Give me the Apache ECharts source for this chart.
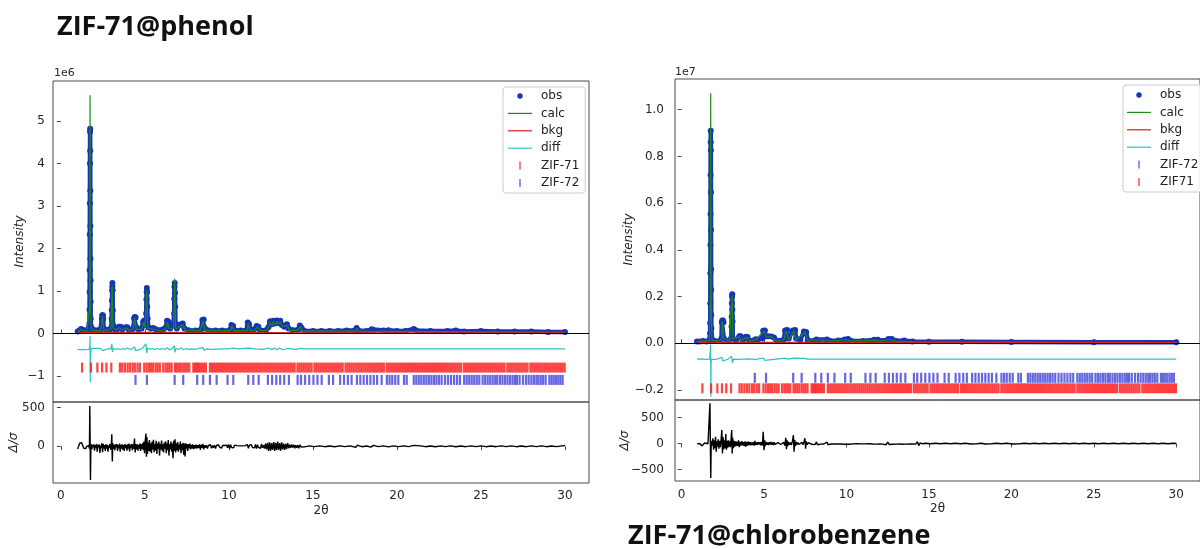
<!DOCTYPE html>
<html>
<head>
<meta charset="utf-8">
<title>ZIF-71 Rietveld refinements</title>
<script src="https://cdn.jsdelivr.net/npm/echarts@6/dist/echarts.min.js"></script>
<style>
  html, body { margin: 0; padding: 0; background: #ffffff; }
  #chart { width: 1200px; height: 549px; }
</style>
</head>
<body>
<div id="chart"></div>
<script>
// ---------------------------------------------------------------------------
// Data: 2θ in degrees. Intensities of the phenol pattern in units of 1e6 counts,
// of the chlorobenzene pattern in units of 1e7 counts (axis offset labels).
// ---------------------------------------------------------------------------

// Axis tick values
const twoThetaTicks = [0, 5, 10, 15, 20, 25, 30];
const phenolIntensityTicks = [-1, 0, 1, 2, 3, 4, 5];
const phenolResidTicks = [0, 500];
const chloroIntensityTicks = [-0.2, 0, 0.2, 0.4, 0.6, 0.8, 1.0];
const chloroResidTicks = [-500, 0, 500];

// ZIF-71@phenol: observed profile (1e6 counts)
const phenolObs = [
  [1.00,0.05],[1.10,0.07],[1.20,0.11],[1.28,0.09],[1.40,0.07],[1.55,0.07],[1.65,0.09],
  [1.700,0.24],[1.705,0.56],[1.710,0.98],[1.715,1.49],[1.720,2.33],[1.725,3.07],[1.730,4.00],[1.735,4.75],
  [1.740,4.82],[1.745,4.30],[1.750,3.36],[1.755,2.53],[1.760,1.76],[1.765,1.25],[1.770,0.75],[1.775,0.35],
  [1.80,0.15],[1.88,0.10],[2.00,0.08],[2.20,0.08],[2.35,0.09],
  [2.42,0.12],[2.44,0.35],[2.46,0.43],[2.50,0.43],[2.52,0.35],[2.54,0.12],
  [2.70,0.09],[2.90,0.09],[3.00,0.15],
  [3.020,0.35],[3.030,0.55],[3.040,0.78],[3.050,1.02],[3.060,1.11],[3.065,1.19],[3.080,1.02],[3.090,0.55],[3.10,0.20],
  [3.20,0.10],[3.35,0.10],[3.45,0.16],[3.55,0.16],[3.65,0.10],[3.85,0.15],[3.95,0.15],[4.05,0.09],[4.25,0.10],
  [4.33,0.15],[4.36,0.36],[4.40,0.39],[4.45,0.38],[4.48,0.15],
  [4.60,0.10],[4.80,0.12],[4.90,0.28],[4.95,0.30],[5.00,0.20],
  [5.060,0.27],[5.075,0.47],[5.090,0.80],[5.105,0.98],[5.115,1.07],[5.125,0.98],[5.140,0.63],[5.160,0.35],[5.20,0.15],
  [5.35,0.12],[5.50,0.13],[5.65,0.10],[5.90,0.08],[6.10,0.10],[6.25,0.15],[6.32,0.30],[6.40,0.28],[6.50,0.12],
  [6.700,0.24],[6.740,0.47],[6.750,0.82],[6.760,1.10],[6.775,1.19],[6.790,0.96],[6.800,0.63],[6.820,0.24],
  [6.90,0.12],[7.05,0.20],[7.15,0.22],[7.25,0.24],[7.35,0.12],[7.60,0.08],[8.00,0.07],[8.35,0.10],
  [8.42,0.32],[8.50,0.33],[8.58,0.12],[8.80,0.07],[9.20,0.07],[9.60,0.07],[10.05,0.08],[10.15,0.20],
  [10.25,0.18],[10.35,0.08],[10.70,0.07],[11.05,0.08],[11.12,0.26],[11.20,0.22],[11.30,0.08],[11.50,0.10],
  [11.65,0.18],[11.75,0.16],[11.85,0.08],[12.20,0.08],[12.35,0.15],[12.45,0.29],[12.55,0.22],[12.65,0.30],
  [12.75,0.24],[12.85,0.31],[12.95,0.25],[13.05,0.30],[13.15,0.20],[13.30,0.16],[13.45,0.22],[13.55,0.12],
  [13.80,0.08],[14.15,0.10],[14.22,0.19],[14.32,0.14],[14.50,0.06],[15.00,0.06],[15.50,0.06],[16.00,0.06],
  [16.50,0.06],[17.00,0.07],[17.50,0.08],[17.60,0.13],[17.70,0.07],[18.20,0.06],[18.50,0.10],[18.60,0.07],
  [19.20,0.07],[19.50,0.08],[20.00,0.06],[20.50,0.06],[21.00,0.11],[21.15,0.07],[22.00,0.06],[23.00,0.06],
  [23.50,0.07],[24.00,0.05],[25.00,0.06],[26.00,0.05],[27.00,0.05],[28.00,0.05],[29.00,0.04],[30.00,0.04]
];

// ZIF-71@phenol: calculated profile (1e6 counts)
const phenolCalc = [
  [1.00,0.04],[1.10,0.06],[1.20,0.10],[1.28,0.08],[1.40,0.06],[1.55,0.06],[1.66,0.08],[1.71,0.60],
  [1.735,5.61],[1.76,0.60],[1.80,0.10],[1.95,0.07],[2.20,0.07],[2.38,0.08],[2.44,0.30],[2.47,0.41],
  [2.50,0.30],[2.56,0.08],[2.80,0.08],[2.98,0.12],[3.05,1.14],[3.10,0.14],[3.30,0.09],[3.47,0.14],
  [3.60,0.09],[3.90,0.13],[4.05,0.08],[4.30,0.09],[4.38,0.36],[4.44,0.35],[4.50,0.10],[4.80,0.10],
  [4.92,0.26],[5.00,0.14],[5.115,1.02],[5.17,0.12],[5.40,0.11],[5.60,0.09],[6.00,0.07],[6.25,0.12],
  [6.34,0.27],[6.45,0.11],[6.70,0.12],[6.775,1.29],[6.83,0.10],[7.10,0.18],[7.25,0.21],[7.40,0.08],
  [8.30,0.07],[8.46,0.30],[8.58,0.07],[10.10,0.07],[10.18,0.18],[10.30,0.07],[11.08,0.07],[11.15,0.24],
  [11.25,0.07],[11.55,0.08],[11.70,0.16],[11.85,0.07],[12.30,0.08],[12.45,0.27],[12.55,0.18],[12.65,0.28],
  [12.75,0.20],[12.85,0.28],[12.95,0.22],[13.05,0.28],[13.18,0.16],[13.45,0.20],[13.60,0.08],[14.10,0.07],
  [14.22,0.17],[14.35,0.06],[17.55,0.06],[17.60,0.12],[17.70,0.06],[30.00,0.03]
];

// ZIF-71@phenol: background (1e6 counts)
const phenolBkg = [[1.00,0.03],[5.00,0.03],[10.00,0.025],[20.00,0.02],[30.00,0.02]];

// ZIF-71@phenol: difference curve, drawn offset below zero (1e6 counts)
const phenolDiff = [
  [1.00,-0.37],[1.08,-0.35],[1.15,-0.38],[1.22,-0.34],[1.30,-0.37],[1.40,-0.36],[1.50,-0.38],[1.60,-0.35],
  [1.68,-0.37],[1.72,-0.30],[1.735,-0.06],[1.75,-1.14],[1.765,-0.52],[1.79,-0.36],[1.85,-0.38],[1.95,-0.35],
  [2.05,-0.37],[2.15,-0.35],[2.25,-0.38],[2.35,-0.35],[2.45,-0.31],[2.50,-0.40],[2.58,-0.36],[2.70,-0.37],
  [2.85,-0.35],[2.97,-0.37],[3.03,-0.24],[3.07,-0.43],[3.12,-0.35],[3.25,-0.37],[3.40,-0.35],[3.52,-0.38],
  [3.65,-0.35],[3.80,-0.37],[3.95,-0.34],[4.10,-0.37],[4.25,-0.36],[4.38,-0.31],[4.44,-0.40],[4.55,-0.36],
  [4.70,-0.37],[4.85,-0.35],[4.95,-0.38],[5.06,-0.24],[5.11,-0.46],[5.16,-0.34],[5.30,-0.37],[5.45,-0.35],
  [5.60,-0.37],[5.75,-0.35],[5.90,-0.37],[6.05,-0.35],[6.20,-0.37],[6.33,-0.33],[6.45,-0.38],[6.60,-0.36],
  [6.74,-0.29],[6.79,-0.44],[6.85,-0.35],[7.00,-0.37],[7.15,-0.34],[7.30,-0.38],[7.45,-0.35],[7.60,-0.37],
  [7.80,-0.36],[8.00,-0.37],[8.20,-0.35],[8.45,-0.33],[8.52,-0.39],[8.70,-0.36],[9.00,-0.37],[9.50,-0.36],
  [10.00,-0.36],[10.20,-0.34],[10.30,-0.38],[10.60,-0.36],[11.10,-0.34],[11.20,-0.38],[11.60,-0.36],
  [12.00,-0.37],[12.40,-0.34],[12.55,-0.38],[12.70,-0.34],[12.85,-0.38],[13.00,-0.34],[13.20,-0.38],
  [13.50,-0.35],[14.00,-0.37],[14.25,-0.35],[14.50,-0.36],[30.00,-0.36]
];

// ZIF-71@phenol: normalised residual Δ/σ
const phenolResid = [
  [1.00,-35],[1.06,5],[1.12,40],[1.18,65],[1.24,45],[1.30,10],[1.36,-25],[1.42,-50],[1.48,-30],[1.54,0],
  [1.60,-15],[1.66,10],[1.70,-30],[1.72,520],[1.745,-30],[1.76,-435],[1.78,-60],[1.80,30],
  [1.84,-40],[1.88,20],[1.92,-10],[1.96,25],[2.00,-55],[2.04,15],[2.08,-20],[2.12,30],[2.16,-70],[2.20,20],
  [2.24,-15],[2.28,25],[2.32,-85],[2.36,10],[2.40,-20],[2.44,40],[2.48,-75],[2.52,30],[2.56,-25],[2.60,15],
  [2.64,-60],[2.68,25],[2.72,-30],[2.76,20],[2.80,-70],[2.84,10],[2.88,-20],[2.92,30],[2.96,-45],[3.00,20],
  [3.03,155],[3.06,-195],[3.09,40],[3.13,-30],[3.17,20],[3.21,-50],[3.25,25],[3.29,-15],[3.33,30],[3.37,-60],
  [3.41,15],[3.45,-25],[3.49,35],[3.53,-70],[3.57,20],[3.61,-30],[3.65,25],[3.69,-45],[3.73,15],[3.77,-60],
  [3.81,30],[3.85,-25],[3.89,20],[3.93,-55],[3.97,25],[4.01,-30],[4.05,35],[4.09,-65],[4.13,20],[4.17,-20],
  [4.21,30],[4.25,-50],[4.29,25],[4.33,-35],[4.38,100],[4.42,-80],[4.46,30],[4.50,-40],[4.54,25],[4.58,-55],
  [4.62,20],[4.66,-30],[4.70,35],[4.74,-60],[4.78,25],[4.82,-35],[4.86,40],[4.90,-50],[4.94,60],[4.98,-90],
  [5.02,70],[5.06,165],[5.09,-135],[5.12,120],[5.15,-100],[5.19,50],[5.23,-60],[5.27,80],[5.31,-70],[5.35,40],
  [5.39,-90],[5.43,60],[5.47,-40],[5.51,85],[5.55,-75],[5.59,30],[5.63,-55],[5.67,70],[5.71,-100],[5.75,40],
  [5.79,-30],[5.83,60],[5.87,-120],[5.91,30],[5.95,-40],[5.99,75],[6.03,-60],[6.07,25],[6.11,-80],[6.15,50],
  [6.19,-30],[6.23,65],[6.27,-90],[6.31,40],[6.35,-50],[6.39,80],[6.43,-120],[6.47,30],[6.51,-40],[6.55,60],
  [6.59,-70],[6.63,35],[6.67,-155],[6.71,70],[6.75,-60],[6.79,90],[6.83,-80],[6.87,40],[6.91,-50],[6.95,55],
  [6.99,-70],[7.03,25],[7.07,-40],[7.11,60],[7.15,-90],[7.19,30],[7.23,-50],[7.27,45],[7.31,-110],[7.35,35],
  [7.39,-130],[7.43,40],[7.47,-30],[7.51,25],[7.55,-60],[7.59,30],[7.63,-25],[7.67,35],[7.71,-40],[7.75,20],
  [7.80,-30],[7.85,25],[7.90,-35],[7.95,15],[8.00,-25],[8.05,20],[8.10,-30],[8.15,15],[8.20,-20],[8.25,25],
  [8.30,-45],[8.35,20],[8.40,-20],[8.45,30],[8.50,-40],[8.55,15],[8.60,-20],[8.66,15],[8.72,-30],[8.78,10],
  [8.84,-15],[8.90,20],[8.96,-25],[9.02,10],[9.08,-20],[9.14,15],[9.20,-30],[9.26,10],[9.32,-15],[9.38,20],
  [9.44,-10],[9.50,15],[9.56,-25],[9.62,10],[9.68,-15],[9.74,10],[9.80,-10],[9.86,15],[9.92,-20],[9.98,25],
  [10.04,-30],[10.10,20],[10.16,-15],[10.22,10],[10.28,-20],[10.34,15],[10.40,-10],[10.48,8],[10.56,-8],
  [10.64,6],[10.72,-6],[10.80,5],[10.88,-5],[10.96,8],[11.04,-10],[11.10,20],[11.16,-25],[11.22,15],
  [11.28,-10],[11.34,20],[11.40,-15],[11.46,10],[11.52,-20],[11.58,25],[11.64,-30],[11.70,20],[11.76,-15],
  [11.82,10],[11.88,-25],[11.94,30],[12.00,-20],[12.06,15],[12.12,-30],[12.18,35],[12.24,-40],[12.30,45],
  [12.36,-60],[12.42,50],[12.48,-55],[12.54,40],[12.60,-45],[12.66,55],[12.72,-60],[12.78,45],[12.84,-50],
  [12.90,60],[12.96,-45],[13.02,40],[13.08,-55],[13.14,50],[13.20,-40],[13.26,35],[13.32,-45],[13.38,30],
  [13.44,-35],[13.50,40],[13.56,-25],[13.62,20],[13.68,-20],[13.74,25],[13.80,-15],[13.86,20],[13.92,-25],
  [13.98,15],[14.04,-20],[14.10,15],[14.16,-25],[14.22,20],[14.30,-10],[14.40,10],[14.50,-8],[14.80,5],
  [15.10,-4],[15.40,6],[15.70,-5],[16.00,4],[16.30,-6],[16.60,5],[16.90,-4],[17.20,6],[17.55,-12],[17.65,15],
  [17.90,-5],[18.20,4],[18.45,-10],[18.60,12],[18.90,-4],[19.20,6],[19.50,-8],[19.80,5],[20.10,-5],[20.40,6],
  [20.70,-4],[21.00,12],[21.10,-12],[21.40,5],[21.70,-5],[22.00,4],[22.30,-6],[22.60,5],[22.90,-4],[23.20,6],
  [23.50,-6],[23.80,4],[24.10,-5],[24.40,5],[24.70,-4],[25.00,5],[25.30,-5],[25.60,4],[25.90,-5],[26.20,5],
  [26.50,-4],[26.80,6],[27.10,-5],[27.40,4],[27.70,-5],[28.00,5],[28.30,-4],[28.60,5],[28.90,-5],[29.20,4],
  [29.50,-4],[29.80,5],[30.00,10]
];

// ZIF-71@chlorobenzene: observed profile (1e7 counts)
const chloroObs = [
  [0.93,0.007],[1.10,0.008],[1.30,0.010],[1.50,0.008],[1.68,0.012],
  [1.730,0.043],[1.735,0.086],[1.740,0.171],[1.745,0.300],[1.750,0.421],[1.755,0.554],[1.760,0.721],
  [1.765,0.861],[1.770,0.910],[1.775,0.826],[1.780,0.647],[1.785,0.486],[1.790,0.317],[1.795,0.229],
  [1.800,0.121],[1.805,0.064],[1.85,0.015],[2.00,0.010],[2.30,0.010],
  [2.42,0.020],[2.44,0.090],[2.47,0.097],[2.51,0.097],[2.54,0.090],[2.56,0.020],[2.80,0.010],[3.00,0.020],
  [3.030,0.071],[3.040,0.114],[3.050,0.171],[3.060,0.200],[3.070,0.210],[3.080,0.143],[3.090,0.093],[3.11,0.020],
  [3.30,0.012],[3.50,0.030],[3.58,0.030],[3.70,0.012],[3.90,0.028],[4.00,0.027],[4.10,0.010],[4.50,0.017],
  [4.60,0.010],[4.90,0.020],[4.95,0.054],[5.05,0.055],[5.12,0.030],[5.25,0.030],[5.45,0.029],[5.60,0.025],
  [5.75,0.012],[6.20,0.015],[6.28,0.055],[6.40,0.057],[6.50,0.020],[6.75,0.055],[6.88,0.057],[6.95,0.020],
  [7.20,0.015],[7.42,0.050],[7.55,0.048],[7.65,0.013],[8.00,0.010],[8.18,0.016],[8.30,0.010],[8.82,0.016],
  [9.00,0.010],[9.50,0.012],[9.90,0.016],[10.10,0.018],[10.30,0.010],[11.00,0.010],[11.70,0.015],
  [11.90,0.015],[12.20,0.010],[12.55,0.018],[12.75,0.018],[13.00,0.010],[13.50,0.012],[14.00,0.008],
  [15.00,0.006],[17.00,0.006],[20.00,0.005],[25.00,0.004],[30.00,0.004]
];

// ZIF-71@chlorobenzene: calculated profile (1e7 counts)
const chloroCalc = [
  [0.93,0.006],[1.30,0.009],[1.68,0.011],[1.745,0.200],[1.765,1.071],[1.785,0.200],[1.84,0.012],
  [2.30,0.009],[2.43,0.020],[2.46,0.092],[2.52,0.092],[2.55,0.020],[2.90,0.010],[3.00,0.018],[3.065,0.205],
  [3.12,0.018],[3.50,0.028],[3.60,0.012],[3.95,0.026],[4.10,0.010],[4.50,0.015],[4.60,0.010],[5.00,0.052],
  [5.12,0.028],[5.45,0.027],[5.70,0.012],[6.20,0.014],[6.34,0.054],[6.50,0.015],[6.82,0.054],[6.95,0.015],
  [7.48,0.047],[7.65,0.012],[8.18,0.014],[8.30,0.010],[8.82,0.014],[9.00,0.009],[10.00,0.015],[10.30,0.009],
  [11.80,0.013],[12.00,0.009],[12.65,0.016],[13.00,0.009],[14.00,0.006],[30.00,0.003]
];

// ZIF-71@chlorobenzene: background (1e7 counts)
const chloroBkg = [[0.93,0.004],[5.00,0.004],[15.00,0.0035],[30.00,0.003]];

// ZIF-71@chlorobenzene: difference curve, drawn offset below zero (1e7 counts)
const chloroDiff = [
  [0.93,-0.068],[1.20,-0.067],[1.50,-0.069],[1.70,-0.068],[1.745,-0.062],[1.76,-0.005],[1.775,-0.229],
  [1.79,-0.080],[1.83,-0.068],[2.00,-0.070],[2.20,-0.067],[2.44,-0.060],[2.50,-0.076],[2.56,-0.068],
  [2.80,-0.069],[3.03,-0.056],[3.08,-0.084],[3.13,-0.068],[3.50,-0.069],[4.00,-0.067],[4.50,-0.069],
  [4.97,-0.063],[5.03,-0.073],[5.10,-0.068],[5.60,-0.069],[6.30,-0.064],[6.38,-0.072],[6.45,-0.068],
  [6.80,-0.064],[6.86,-0.072],[6.92,-0.068],[7.46,-0.065],[7.53,-0.071],[7.60,-0.068],[10.00,-0.068],
  [30.00,-0.068]
];

// ZIF-71@chlorobenzene: normalised residual Δ/σ
const chloroResid = [
  [0.95,0],[1.05,5],[1.15,-10],[1.22,-50],[1.30,-30],[1.40,10],[1.50,20],[1.60,-5],[1.68,-20],[1.72,770],
  [1.745,-40],[1.77,-660],[1.79,-100],[1.82,50],[1.86,-40],[1.90,100],[1.94,-120],[1.98,60],[2.02,-90],
  [2.06,130],[2.10,-160],[2.14,40],[2.18,-60],[2.22,80],[2.26,-100],[2.30,50],[2.35,-70],[2.40,90],
  [2.44,256],[2.48,-190],[2.52,120],[2.56,-110],[2.60,60],[2.64,-90],[2.68,180],[2.72,-120],[2.76,50],
  [2.80,-80],[2.84,60],[2.88,-60],[2.92,40],[2.96,-70],[3.00,80],[3.04,256],[3.07,-190],[3.10,110],
  [3.14,-90],[3.18,50],[3.22,-60],[3.26,40],[3.30,-50],[3.35,35],[3.40,-45],[3.45,60],[3.50,-70],[3.55,30],
  [3.60,-40],[3.65,45],[3.70,-35],[3.75,25],[3.80,-50],[3.85,40],[3.90,-60],[3.95,30],[4.00,-40],[4.05,35],
  [4.10,-30],[4.15,25],[4.20,-35],[4.25,20],[4.30,-30],[4.35,25],[4.40,-40],[4.45,50],[4.50,-30],[4.55,20],
  [4.60,-25],[4.65,30],[4.70,-20],[4.75,25],[4.80,-35],[4.85,30],[4.90,-40],[4.95,224],[5.00,-128],[5.04,60],
  [5.08,-50],[5.12,30],[5.17,-25],[5.22,20],[5.27,-30],[5.32,25],[5.37,-20],[5.42,30],[5.47,-25],[5.52,20],
  [5.57,-30],[5.62,25],[5.67,-20],[5.72,15],[5.78,-20],[5.84,15],[5.90,-15],[5.96,20],[6.02,-20],[6.08,15],
  [6.14,-25],[6.20,20],[6.26,-40],[6.32,110],[6.36,-110],[6.40,60],[6.44,-50],[6.48,30],[6.54,-25],[6.60,20],
  [6.66,-30],[6.72,40],[6.78,160],[6.82,-160],[6.86,70],[6.90,-50],[6.95,30],[7.00,-25],[7.06,20],[7.12,-20],
  [7.18,15],[7.24,-20],[7.30,20],[7.36,-25],[7.42,30],[7.48,100],[7.52,-100],[7.56,40],[7.62,-25],[7.68,15],
  [7.74,-15],[7.80,10],[7.90,-15],[8.00,12],[8.10,-20],[8.18,30],[8.24,-25],[8.32,10],[8.42,-12],[8.52,10],
  [8.62,-10],[8.72,12],[8.82,25],[8.88,-25],[8.96,10],[9.06,-10],[9.16,8],[9.26,-10],[9.36,12],[9.46,-8],
  [9.56,8],[9.66,-10],[9.76,10],[9.86,-15],[9.94,20],[10.02,-15],[10.10,18],[10.18,-15],[10.28,8],[10.40,-8],
  [10.52,6],[10.64,-6],[10.76,8],[10.88,-8],[11.00,6],[11.12,-8],[11.24,6],[11.36,-6],[11.48,8],[11.60,-10],
  [11.70,15],[11.80,-12],[11.90,10],[12.00,-8],[12.10,10],[12.20,-12],[12.30,20],[12.40,-25],[12.50,25],
  [12.60,-20],[12.70,18],[12.80,-15],[12.90,10],[13.00,-12],[13.10,15],[13.20,-10],[13.30,12],[13.40,-15],
  [13.50,10],[13.60,-12],[13.70,15],[13.80,-10],[13.90,12],[14.00,-8],[14.10,10],[14.20,-12],[14.30,35],
  [14.38,-40],[14.46,10],[14.60,-6],[14.80,5],[15.10,-5],[15.40,4],[15.70,-5],[16.00,4],[16.30,-4],[16.60,5],
  [16.90,-4],[17.20,4],[17.55,-10],[17.65,10],[17.90,-4],[18.20,4],[18.40,-9],[18.50,9],[18.80,-4],[19.10,4],
  [19.40,-5],[19.70,4],[20.10,-10],[20.20,10],[20.50,-4],[20.80,4],[21.10,-5],[21.40,4],[21.70,-4],[22.00,4],
  [22.30,-4],[22.60,4],[22.90,-4],[23.20,4],[23.50,-4],[23.80,4],[24.10,-4],[24.40,4],[24.70,-4],[25.00,4],
  [25.30,-4],[25.60,4],[25.90,-4],[26.20,4],[26.50,-4],[26.80,4],[27.10,-4],[27.40,4],[27.70,-4],[28.00,4],
  [28.30,-4],[28.60,4],[28.90,-4],[29.20,4],[29.50,-4],[29.80,4],[30.00,0]
];

// Reflection positions (2θ, degrees) of the two phases
const zif71Refl = [
  1.26,1.79,2.17,2.45,2.71,3.00,
  3.51,3.65,3.81,3.97,4.11,4.27,4.40,4.56,4.70,
  4.96,5.10,5.24,5.36,5.49,5.64,5.76,5.89,
  6.09,6.23,6.35,6.47,6.59,
  6.79,6.90,7.02,7.14,7.28,7.40,7.52,7.64,
  7.88,7.98,8.08,8.17,8.27,8.39,8.51,8.63,
  8.87,8.99,9.11,9.23,9.35,9.47,9.59,9.71,9.83,9.95,10.07,10.19,10.31,10.43,10.55,10.67,10.79,10.91,
  11.03,11.15,11.27,11.39,11.51,11.63,11.75,11.87,11.99,12.11,12.23,12.35,12.47,12.59,12.71,12.83,12.95,
  13.07,13.19,13.31,13.43,13.55,13.67,13.79,13.91,
  14.08,14.20,14.32,14.44,14.56,14.68,14.80,14.92,
  15.09,15.21,15.33,15.45,15.57,15.69,15.81,15.93,16.05,16.17,16.29,16.41,16.53,16.65,16.77,
  16.94,17.06,17.18,17.30,17.42,17.54,17.66,17.78,17.90,18.02,18.14,18.26,18.38,18.50,18.62,18.74,18.86,
  18.98,19.10,19.22,
  19.39,19.51,19.63,19.75,19.87,19.99,20.11,20.23,20.35,20.47,20.59,20.71,20.83,20.95,21.07,21.19,21.31,
  21.43,21.55,21.67,21.79,21.91,22.03,22.15,22.27,22.39,22.51,22.63,22.75,22.87,22.99,23.11,23.23,23.35,
  23.47,23.59,23.71,23.83,
  24.00,24.12,24.24,24.36,24.48,24.60,24.72,24.84,24.96,25.08,25.20,25.32,25.44,25.56,25.68,25.80,25.92,
  26.04,26.16,26.28,26.40,
  26.57,26.69,26.81,26.93,27.05,27.17,27.29,27.41,27.53,27.65,27.77,
  27.94,28.06,28.18,28.30,28.42,28.54,28.66,28.78,28.90,29.02,29.14,29.26,29.38,29.50,29.62,29.74,29.86,29.98
];
const zif72Refl = [
  4.44,5.12,6.77,7.28,8.11,8.47,8.87,9.27,9.92,10.26,11.15,11.45,11.77,
  12.32,12.57,12.82,13.05,13.29,13.57,14.09,14.29,14.53,14.78,15.03,15.27,15.52,15.95,16.20,
  16.62,16.85,17.08,17.30,17.62,17.82,18.02,18.22,18.42,18.62,18.82,19.09,19.40,19.56,19.72,19.90,20.08,
  20.42,20.58,21.00,21.15,21.30,21.45,21.60,21.75,21.90,22.05,22.20,22.35,22.50,22.66,22.86,23.04,23.22,
  23.40,23.58,23.75,24.00,24.15,24.30,24.45,24.60,24.75,24.90,25.10,25.25,25.40,25.55,25.70,25.85,25.97,
  26.13,26.28,26.43,26.58,26.73,26.88,27.02,27.14,27.30,27.50,27.68,27.84,28.00,28.15,28.30,28.42,28.56,
  28.70,28.85,29.07,29.20,29.33,29.46,29.60,29.73,29.86
];

// ---------------------------------------------------------------------------
// Styling
// ---------------------------------------------------------------------------
const FONT = 'DejaVu Sans';
const COLORS = {
  obs: '#1733b8',
  calc: '#1b8a1b',
  bkg: '#d42020',
  diff: '#2cc3c3',
  zif71: '#ff1414',
  zif72: '#4040dc',
  resid: '#000000',
  frame: '#4a4a4a',
  text: '#262626'
};

// Legend glyphs; each path spans the full 24x10 legend cell so it is drawn at its true size
const ICON_DOT  = 'path://M0,0M24,10M9.3,5a2.7,2.7 0 1,0 5.4,0a2.7,2.7 0 1,0 -5.4,0Z';
const ICON_LINE = 'path://M0,0M24,10M0,4.4H24V5.6H0Z';
const ICON_TICK = 'path://M0,0M24,10M11.3,1H12.7V9H11.3Z';

function signedFormatter(digits) {
  return function (v) {
    const s = Math.abs(v).toFixed(digits);
    return (v < -1e-9 ? '\u2212' : '') + s;
  };
}

function xAxisTop(gridIndex, min, max) {
  return {
    type: 'value', gridIndex: gridIndex, min: min, max: max,
    axisLine: { show: false },
    axisTick: { show: true, inside: true, length: 4, customValues: twoThetaTicks,
                lineStyle: { color: COLORS.frame, width: 1 } },
    axisLabel: { show: false },
    splitLine: { show: false }
  };
}

function xAxisBottom(gridIndex, min, max, labelMargin) {
  return {
    type: 'value', gridIndex: gridIndex, min: min, max: max,
    name: '2θ', nameLocation: 'middle', nameGap: 22, nameMoveOverlap: false,
    nameTextStyle: { fontFamily: FONT, fontSize: 12, color: COLORS.text },
    axisLine: { show: false },
    axisTick: { show: true, inside: false, length: 4, customValues: twoThetaTicks,
                lineStyle: { color: COLORS.frame, width: 1 } },
    axisLabel: { show: true, customValues: twoThetaTicks, margin: labelMargin,
                 fontFamily: FONT, fontSize: 12, color: COLORS.text,
                 formatter: signedFormatter(0) },
    splitLine: { show: false }
  };
}

function yAxisDef(gridIndex, min, max, ticks, digits, name, nameGap, labelMargin) {
  return {
    type: 'value', gridIndex: gridIndex, min: min, max: max,
    name: name, nameLocation: 'middle', nameGap: nameGap, nameRotate: 90, nameMoveOverlap: false,
    nameTextStyle: { fontFamily: FONT, fontSize: 12, fontStyle: 'italic', color: COLORS.text },
    axisLine: { show: false },
    axisTick: { show: true, inside: false, length: 4, customValues: ticks,
                lineStyle: { color: COLORS.frame, width: 1 } },
    axisLabel: { show: true, customValues: ticks, margin: labelMargin,
                 fontFamily: FONT, fontSize: 12, color: COLORS.text,
                 formatter: signedFormatter(digits) },
    splitLine: { show: false }
  };
}

function lineSeries(name, data, xi, color, width, z) {
  return {
    type: 'line', name: name, data: data, xAxisIndex: xi, yAxisIndex: xi,
    showSymbol: false, symbol: 'none', smooth: false,
    lineStyle: { color: color, width: width },
    itemStyle: { color: color },
    z: z, silent: true
  };
}

function obsSeries(data, xi) {
  return {
    type: 'line', name: 'obs', data: data, xAxisIndex: xi, yAxisIndex: xi,
    symbol: 'circle', symbolSize: 6, showSymbol: true,
    lineStyle: { color: COLORS.obs, width: 4.5, join: 'round', cap: 'round' },
    itemStyle: { color: COLORS.obs },
    z: 2, silent: true,
    markLine: {
      silent: true, symbol: ['none', 'none'], label: { show: false },
      lineStyle: { color: '#000000', width: 1, type: 'solid' },
      data: [{ yAxis: 0 }], animation: false
    }
  };
}

function reflSeries(name, positions, level, color, xi) {
  return {
    type: 'scatter', name: name, xAxisIndex: xi, yAxisIndex: xi,
    data: positions.map(function (t) { return [t, level]; }),
    symbol: 'rect', symbolSize: [2.2, 10],
    itemStyle: { color: color, borderWidth: 0 },
    z: 6, silent: true
  };
}

function legendDef(left, top, names, icons, padding) {
  return {
    orient: 'vertical', left: left, top: top,
    itemWidth: 24, itemHeight: 10, itemGap: 5.4,
    padding: padding,
    borderColor: '#cccccc', borderWidth: 1, borderRadius: 3,
    backgroundColor: 'rgba(255,255,255,0.85)',
    selectedMode: false,
    itemStyle: { borderWidth: 0 },
    textStyle: { fontFamily: FONT, fontSize: 12, color: '#222222', lineHeight: 12, padding: [0, 0, 0, 4] },
    data: names.map(function (n, i) { return { name: n, icon: icons[i] }; })
  };
}

// ---------------------------------------------------------------------------
// Chart
// ---------------------------------------------------------------------------
const chart = echarts.init(document.getElementById('chart'), null, { renderer: 'canvas' });

const TITLE_STYLE = { fontFamily: 'Open Sans', fontWeight: 'bold', fontSize: 27, color: '#111111' };

const option = {
  animation: false,
  backgroundColor: '#ffffff',
  title: [
    { text: 'ZIF-71@phenol', left: 52, top: 9, textStyle: TITLE_STYLE },
    { text: 'ZIF-71@chlorobenzene', left: 623, top: 518, textStyle: TITLE_STYLE }
  ],
  graphic: [
    { type: 'text', left: 54, top: 68, style: { text: '1e6', font: '11px "DejaVu Sans"', fill: COLORS.text } },
    { type: 'text', left: 675, top: 67, style: { text: '1e7', font: '11px "DejaVu Sans"', fill: COLORS.text } }
  ],
  legend: [
    legendDef(503, 87, ['obs', 'calc', 'bkg', 'diff', 'ZIF-71', 'ZIF-72'],
              [ICON_DOT, ICON_LINE, ICON_LINE, ICON_LINE, ICON_TICK, ICON_TICK], [3, 6, 4, 5]),
    legendDef(1123, 85, ['obs', 'calc', 'bkg', 'diff', 'ZIF-72', 'ZIF71'],
              [ICON_DOT, ICON_LINE, ICON_LINE, ICON_LINE, ICON_TICK, ICON_TICK], [4, 14, 4, 4])
  ],
  grid: [
    { left: 53, top: 81, width: 536, height: 321, show: true, borderColor: COLORS.frame, borderWidth: 1, backgroundColor: 'transparent' },
    { left: 53, top: 402, width: 536, height: 81, show: true, borderColor: COLORS.frame, borderWidth: 1, backgroundColor: 'transparent' },
    { left: 675, top: 79, width: 532, height: 321, show: true, borderColor: COLORS.frame, borderWidth: 1, backgroundColor: 'transparent' },
    { left: 675, top: 400, width: 532, height: 81, show: true, borderColor: COLORS.frame, borderWidth: 1, backgroundColor: 'transparent' }
  ],
  xAxis: [
    xAxisTop(0, -0.47, 31.43),
    xAxisBottom(1, -0.47, 31.43, 7),
    xAxisTop(2, -0.40, 31.44),
    xAxisBottom(3, -0.40, 31.44, 8)
  ],
  yAxis: [
    yAxisDef(0, -1.61, 5.944, phenolIntensityTicks, 0, 'Intensity', 27, 8),
    yAxisDef(1, -474, 572, phenolResidTicks, 0, 'Δ/σ', 33, 8),
    yAxisDef(2, -0.243, 1.1316, chloroIntensityTicks, 1, 'Intensity', 40, 11),
    yAxisDef(3, -719, 833, chloroResidTicks, 0, 'Δ/σ', 44, 11)
  ],
  series: [
    // ZIF-71@phenol
    obsSeries(phenolObs, 0),
    lineSeries('calc', phenolCalc, 0, COLORS.calc, 1.2, 3),
    lineSeries('bkg', phenolBkg, 0, COLORS.bkg, 1.2, 4),
    lineSeries('diff', phenolDiff, 0, COLORS.diff, 1.2, 5),
    reflSeries('ZIF-71', zif71Refl, -0.80, COLORS.zif71, 0),
    reflSeries('ZIF-72', zif72Refl, -1.09, COLORS.zif72, 0),
    lineSeries('Δ/σ', phenolResid, 1, COLORS.resid, 1.4, 3),
    // ZIF-71@chlorobenzene
    obsSeries(chloroObs, 2),
    lineSeries('calc', chloroCalc, 2, COLORS.calc, 1.2, 3),
    lineSeries('bkg', chloroBkg, 2, COLORS.bkg, 1.2, 4),
    lineSeries('diff', chloroDiff, 2, COLORS.diff, 1.2, 5),
    reflSeries('ZIF-72', zif72Refl, -0.148, COLORS.zif72, 2),
    reflSeries('ZIF71', zif71Refl, -0.193, COLORS.zif71, 2),
    lineSeries('Δ/σ ', chloroResid, 3, COLORS.resid, 1.4, 3)
  ]
};

chart.setOption(option);
</script>
</body>
</html>
